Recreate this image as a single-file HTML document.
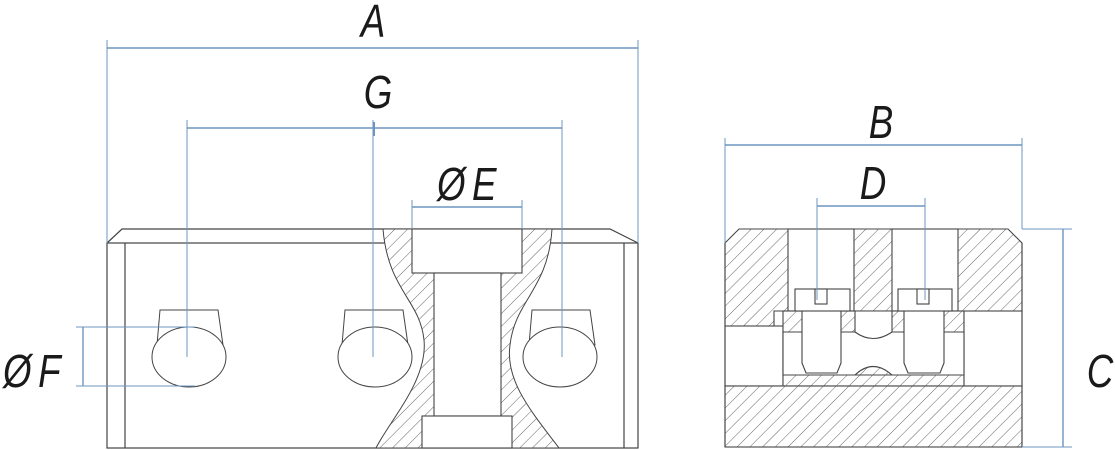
<!DOCTYPE html>
<html><head><meta charset="utf-8"><style>
html,body{margin:0;padding:0;background:#fff;}
svg{display:block}
text{font-family:"Liberation Sans",sans-serif;fill:#1a1a1a;}
</style></head><body>
<svg width="1115" height="450" viewBox="0 0 1115 450" xmlns="http://www.w3.org/2000/svg">
<defs>
<pattern id="h" patternUnits="userSpaceOnUse" width="9" height="9" patternTransform="rotate(45)">
<rect width="9" height="9" fill="#fff"/>
<line x1="0" y1="0" x2="0" y2="9" stroke="#555" stroke-width="0.9"/>
</pattern>
</defs>

<g stroke="#444" stroke-width="1.2" fill="none">
<path d="M107,243 L122,229 L610,229 L638,243"/>
<rect x="107" y="243" width="531" height="205"/>
<line x1="125" y1="243" x2="125" y2="448"/>
<line x1="624" y1="243" x2="624" y2="448"/>
</g>
<path d="M383,229 C388,290 420,300 424,340 C428,380 390,420 376,448 L559,448 C530,410 505,380 510,345 C515,300 548,290 552,229 Z" fill="url(#h)" stroke="#444" stroke-width="1"/>
<g stroke="#444" stroke-width="1.1" fill="#fff">
<rect x="412" y="229" width="110" height="44"/>
<rect x="434" y="273" width="67" height="143"/>
<rect x="422" y="416" width="90" height="32"/>
</g>
<g stroke="#444" stroke-width="1" fill="#fff">
<path d="M160,310 L218,310 L223,345 L157,345 Z"/>
<ellipse cx="189" cy="357" rx="37" ry="30"/>
<path d="M345,310 L403,310 L408,345 L342,345 Z"/>
<ellipse cx="375" cy="357" rx="37" ry="30"/>
<path d="M532,310 L590,310 L595,345 L529,345 Z"/>
<ellipse cx="560" cy="357" rx="37" ry="30"/>
</g>

<g stroke="#444" stroke-width="1.1">
<path d="M725,243 L739,229 L1008,229 L1022,243 L1022,311 L964,311 L783,311 L774,311 L774,326 L725,326 Z" fill="url(#h)"/>
<rect x="788" y="229" width="66" height="82" fill="#fff"/>
<rect x="892" y="229" width="66" height="82" fill="#fff"/>
<rect x="725" y="326" width="58" height="60" fill="#fff"/>
<rect x="783" y="311" width="181" height="75" fill="url(#h)"/>
<rect x="964" y="311" width="58" height="75" fill="#fff"/>
<path d="M783,332 L783,375 L964,375 L964,332 Z" fill="#fff"/>
<path d="M855,311 L855,332 Q873,345 892,332 L892,311 Z" fill="#fff"/>
<path d="M855,375 Q873,358 892,375 Z" fill="url(#h)"/>
<path d="M802,311 L841,311 L841,363 L837,373 L806,373 L802,363 Z" fill="#fff"/>
<path d="M904,311 L944,311 L944,363 L940,373 L908,373 L904,363 Z" fill="#fff"/>
<rect x="795" y="289" width="55" height="22" fill="#fff"/>
<rect x="815" y="289" width="12" height="15" fill="#fff"/>
<rect x="898" y="289" width="54" height="22" fill="#fff"/>
<rect x="917" y="289" width="12" height="15" fill="#fff"/>
<rect x="725" y="386" width="297" height="61" fill="url(#h)"/>
<line x1="725" y1="243" x2="725" y2="447"/>
<line x1="1022" y1="243" x2="1022" y2="447"/>
</g>

<g stroke="#6d95c0" stroke-width="1" fill="none">
<line x1="107" y1="48" x2="638" y2="48" stroke-width="1.4"/>
<line x1="107" y1="40" x2="107" y2="243"/><line x1="638" y1="40" x2="638" y2="243"/>
<line x1="187" y1="128" x2="562" y2="128" stroke-width="1.4"/>
<line x1="187" y1="120" x2="187" y2="357"/><line x1="562" y1="120" x2="562" y2="357"/>
<line x1="373" y1="120" x2="373" y2="357"/><line x1="374" y1="122" x2="374" y2="136" stroke-width="2"/>
<line x1="412" y1="207" x2="522" y2="207" stroke-width="1.4"/>
<line x1="412" y1="200" x2="412" y2="229"/><line x1="522" y1="200" x2="522" y2="229"/>
<line x1="83" y1="327" x2="83" y2="386" stroke-width="1.4"/>
<line x1="76" y1="327" x2="195" y2="327"/><line x1="76" y1="386" x2="195" y2="386"/>
<line x1="725" y1="145" x2="1022" y2="145" stroke-width="1.4"/>
<line x1="725" y1="138" x2="725" y2="243"/><line x1="1022" y1="138" x2="1022" y2="229"/>
<line x1="817" y1="206" x2="925" y2="206" stroke-width="1.4"/>
<line x1="817" y1="198" x2="817" y2="300"/><line x1="925" y1="198" x2="925" y2="300"/>
<line x1="1063" y1="229" x2="1063" y2="447" stroke-width="1.4"/>
<line x1="1022" y1="229" x2="1072" y2="229"/><line x1="1022" y1="447" x2="1072" y2="447"/>
</g>

<g font-size="46" font-style="italic">
<text x="373" y="37" text-anchor="middle" transform="translate(373 0) scale(0.8 1) translate(-373 0)">A</text>
<text x="378" y="108" text-anchor="middle" transform="translate(378 0) scale(0.8 1) translate(-378 0)">G</text>
<text x="470" y="200" text-anchor="middle" letter-spacing="8" transform="translate(470 0) scale(0.8 1) translate(-470 0)">ØE</text>
<text x="35" y="387" text-anchor="middle" letter-spacing="8" transform="translate(35 0) scale(0.8 1) translate(-35 0)">ØF</text>
<text x="881" y="138" text-anchor="middle" transform="translate(881 0) scale(0.8 1) translate(-881 0)">B</text>
<text x="873" y="199" text-anchor="middle" transform="translate(873 0) scale(0.8 1) translate(-873 0)">D</text>
<text x="1100" y="387" text-anchor="middle" transform="translate(1100 0) scale(0.8 1) translate(-1100 0)">C</text>
</g>
</svg>
</body></html>
